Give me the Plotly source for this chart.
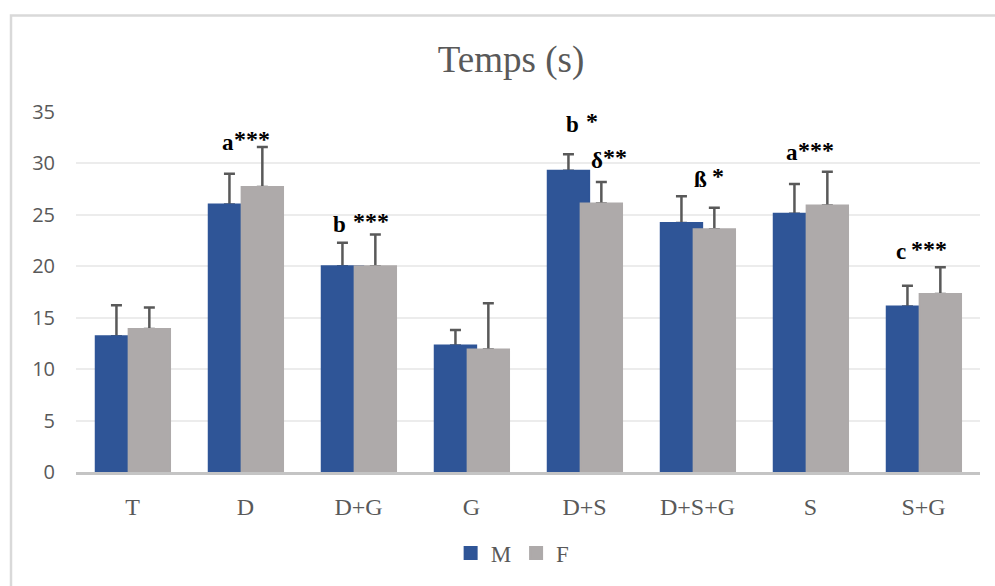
import plotly.graph_objects as go

# ---- data ----
categories = ["T", "D", "D+G", "G", "D+S", "D+S+G", "S", "S+G"]
m_values = [13.2, 26.0, 20.0, 12.3, 29.3, 24.2, 25.1, 16.1]
m_errors = [3.0, 3.0, 2.3, 1.5, 1.6, 2.6, 2.9, 2.0]
f_values = [13.9, 27.7, 20.0, 11.9, 26.1, 23.6, 25.9, 17.3]
f_errors = [2.1, 3.9, 3.1, 4.5, 2.1, 2.1, 3.3, 2.6]
y_ticks = [0, 5, 10, 15, 20, 25, 30, 35]

# significance labels: (category, letter, stars)
sig_labels = [
    ("D", "a", "***"),
    ("D+G", "b", "***"),
    ("D+S", "b", "*"),
    ("D+S", "δ", "**"),
    ("D+S+G", "ß", "*"),
    ("S", "a", "***"),
    ("S+G", "c", "***"),
]
# layout positions for the labels: (letter dx, letter y, stars dx, stars y)
sig_pos = [
    (-0.155, 32.0, 0.055, 32.4),
    (-0.168, 24.1, 0.109, 24.4),
    (-0.106, 33.75, 0.065, 34.1),
    (0.109, 30.3, 0.27, 30.58),
    (0.027, 28.4, 0.181, 28.73),
    (-0.164, 31.05, 0.047, 31.35),
    (-0.202, 21.43, 0.05, 21.72),
]

BLUE = "#2f5597"
GRAY = "#aeaaaa"
TXT = "#595959"

px_per_cat = 113.0
bar_w = 0.384 - 2 / px_per_cat
m_off = -0.334 + 1 / px_per_cat
f_off = -0.043 + 1 / px_per_cat

fig = go.Figure()

err_style = dict(type="data", symmetric=False, color=TXT, thickness=2.5, width=5.5)

# error bars first (transparent bars), so the bars cover the lower caps
fig.add_trace(go.Bar(x=categories, y=m_values, width=bar_w, offset=m_off,
                     marker=dict(color="rgba(0,0,0,0)", line=dict(width=0)),
                     error_y=dict(array=m_errors, arrayminus=[0] * len(m_values), **err_style),
                     showlegend=False, hoverinfo="skip"))
fig.add_trace(go.Bar(x=categories, y=f_values, width=bar_w, offset=f_off,
                     marker=dict(color="rgba(0,0,0,0)", line=dict(width=0)),
                     error_y=dict(array=f_errors, arrayminus=[0] * len(f_values), **err_style),
                     showlegend=False, hoverinfo="skip"))

fig.add_trace(go.Bar(x=categories, y=m_values, name="M", width=bar_w, offset=m_off,
                     marker=dict(color=BLUE, line=dict(color=BLUE, width=2))))
fig.add_trace(go.Bar(x=categories, y=f_values, name="F", width=bar_w, offset=f_off,
                     marker=dict(color=GRAY, line=dict(color=GRAY, width=2))))

annotations = []
for (cat, letter, stars), (ldx, ly, sdx, sy) in zip(sig_labels, sig_pos):
    idx = categories.index(cat)
    annotations.append(dict(x=idx + ldx, y=ly, xref="x", yref="y", text=letter,
                            showarrow=False, xanchor="center", yanchor="middle",
                            font=dict(family="Liberation Serif", size=23, color="#000000", weight="bold")))
    annotations.append(dict(x=idx + sdx, y=sy, xref="x", yref="y", text=stars,
                            showarrow=False, xanchor="center", yanchor="middle",
                            font=dict(family="Liberation Serif", size=24, color="#000000", weight="bold")))

fig.update_layout(
    width=995, height=586,
    margin=dict(l=76, r=15, t=112, b=114),
    paper_bgcolor="white", plot_bgcolor="white",
    barmode="overlay",
    title=dict(text="Temps (s)", x=0.5136, xref="container", xanchor="center",
               y=0.9, yref="container", yanchor="middle",
               font=dict(family="Liberation Serif", size=37, color=TXT)),
    xaxis=dict(showline=True, linecolor="#c4c4c4", linewidth=2.5, showgrid=False,
               ticks="", tickfont=dict(family="Liberation Serif", size=24, color=TXT),
               ticklabelstandoff=11, range=[-0.5, 7.5]),
    yaxis=dict(range=[0, 35], tickvals=y_ticks, showgrid=True, gridcolor="#ececec",
               gridwidth=2, zeroline=False, ticks="",
               tickfont=dict(family="Open Sans", size=20, color=TXT),
               ticklabelstandoff=20),
    legend=dict(orientation="h", x=0.483, xanchor="center", y=-0.225, yanchor="middle",
                font=dict(family="Liberation Serif", size=23, color=TXT),
                traceorder="normal"),
    annotations=annotations,
    shapes=[dict(type="path", xref="paper", yref="paper",
                 path="M -0.0719,-0.5 L -0.0719,1.2684 L 1.2,1.2684",
                 line=dict(color="#d9d9d9", width=2.5))],
)

fig.write_html("out.html")
